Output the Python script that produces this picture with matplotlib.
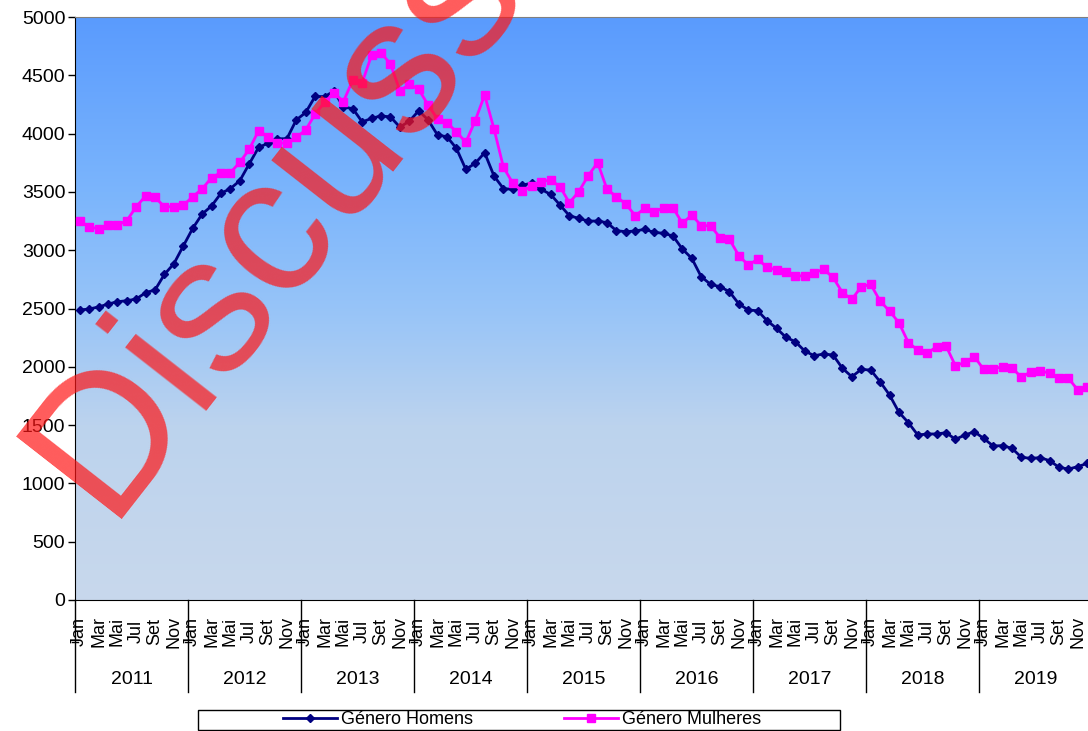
import numpy as np
import matplotlib
matplotlib.use("Agg")
import matplotlib.pyplot as plt
from matplotlib.colors import LinearSegmentedColormap
from matplotlib.patches import Rectangle
from matplotlib.lines import Line2D

plt.rcParams['font.family'] = ['Liberation Sans', 'DejaVu Sans']

# data, monthly Jan 2011 .. Dec 2019
years = ['2011', '2012', '2013', '2014', '2015', '2016', '2017', '2018', '2019']
month_labels = ['Jan', 'Mar', 'Mai', 'Jul', 'Set', 'Nov']

homens = [2487, 2496, 2513, 2538, 2558, 2567, 2581, 2636, 2659, 2793, 2884, 3036,
          3187, 3310, 3379, 3488, 3528, 3596, 3740, 3882, 3917, 3956, 3956, 4117,
          4181, 4319, 4317, 4364, 4228, 4214, 4100, 4131, 4152, 4143, 4056, 4106,
          4196, 4117, 3988, 3973, 3874, 3694, 3745, 3836, 3636, 3528, 3522, 3559,
          3574, 3522, 3479, 3388, 3296, 3273, 3250, 3250, 3236, 3167, 3159, 3165,
          3179, 3153, 3145, 3122, 3010, 2930, 2773, 2707, 2687, 2644, 2539, 2487,
          2481, 2395, 2330, 2253, 2215, 2135, 2095, 2110, 2101, 1987, 1915, 1978,
          1972, 1872, 1758, 1610, 1521, 1415, 1424, 1424, 1435, 1378, 1415, 1443,
          1386, 1321, 1324, 1301, 1224, 1215, 1221, 1195, 1138, 1123, 1144, 1172]

mulheres = [3250, 3202, 3182, 3216, 3216, 3253, 3373, 3465, 3453, 3373, 3373, 3385,
            3459, 3525, 3622, 3665, 3665, 3754, 3865, 4025, 3973, 3922, 3917, 3968,
            4031, 4168, 4268, 4351, 4274, 4459, 4437, 4674, 4694, 4597, 4368, 4422,
            4380, 4245, 4125, 4094, 4016, 3925, 4111, 4331, 4039, 3711, 3574, 3508,
            3551, 3588, 3602, 3545, 3407, 3502, 3639, 3751, 3522, 3459, 3396, 3296,
            3359, 3325, 3365, 3365, 3231, 3302, 3210, 3210, 3107, 3093, 2953, 2873,
            2922, 2853, 2830, 2816, 2779, 2781, 2807, 2836, 2767, 2636, 2579, 2687,
            2707, 2564, 2478, 2378, 2207, 2144, 2116, 2172, 2178, 2009, 2038, 2087,
            1978, 1981, 2001, 1992, 1910, 1958, 1967, 1944, 1901, 1901, 1801, 1830]

n = len(homens)
x = np.arange(n) + 0.5

fig = plt.figure(figsize=(10.88, 7.31), dpi=100)
ax = fig.add_axes([75 / 1088, 131 / 731, 1017 / 1088, 583 / 731])
ax.set_xlim(0, n)
ax.set_ylim(0, 5000)

# gradient background of the plot area
bg = LinearSegmentedColormap.from_list('bg', [
    (0.0, '#c8d8ec'), (0.3, '#bcd3ee'), (0.5, '#97c4f8'),
    (0.7, '#7bb5fc'), (1.0, '#5a9bfe')])
grad = np.linspace(0, 1, 256).reshape(-1, 1)
ax.imshow(grad, cmap=bg, origin='lower', aspect='auto',
          extent=(0, n, 0, 5000), zorder=0)

ax.plot(x, homens, color='#000080', lw=2, marker='D', markersize=4,
        label='Género Homens', zorder=3)
ax.plot(x, mulheres, color='#ff00ff', lw=2, marker='s', markersize=6,
        label='Género Mulheres', zorder=3)

# y axis
ax.set_yticks(range(0, 5001, 500))
ax.tick_params(axis='y', direction='out', length=5, width=1, labelsize=14, pad=2)
ax.set_xticks([])
ax.spines['right'].set_visible(False)
ax.spines['top'].set_color('#808080')
ax.spines['left'].set_color('black')
ax.spines['bottom'].set_color('black')

# two-level category axis: months then years
tr = ax.get_xaxis_transform()
for i in range(0, n, 2):
    ax.text(i + 0.5, -0.054, month_labels[(i % 12) // 2], rotation=90,
            ha='center', va='center', fontsize=13, transform=tr, clip_on=False)
for k, yr in enumerate(years):
    ax.text(12 * k + 6, -0.136, yr, ha='center', va='center', fontsize=14,
            transform=tr, clip_on=False)
for k in range(len(years) + 1):
    ax.add_line(Line2D([12 * k, 12 * k], [0, -0.158], color='black', lw=1,
                       transform=tr, clip_on=False))
    ax.add_line(Line2D([12 * k - 0.35, 12 * k + 0.35], [-0.072, -0.072],
                       color='black', lw=1, transform=tr, clip_on=False))

# legend with a wide frame
fig.patches.append(Rectangle((198 / 1088, 1 - 730 / 731), 642 / 1088, 20 / 731,
                             transform=fig.transFigure, fill=False,
                             edgecolor='black', lw=1))
fig.legend(loc='center', bbox_to_anchor=(522 / 1088, 1 - 720 / 731), ncol=2,
           frameon=False, fontsize=13, handlelength=3.0, handletextpad=0.25,
           columnspacing=5.0, borderpad=0)

# watermark
fig.text(316 / 1088, 1 - 250 / 731, 'Discuss', rotation=52, rotation_mode='anchor',
         ha='center', va='baseline', fontsize=140, color='#ff1515', alpha=0.7,
         zorder=10)

fig.savefig('out.png', dpi=100)
